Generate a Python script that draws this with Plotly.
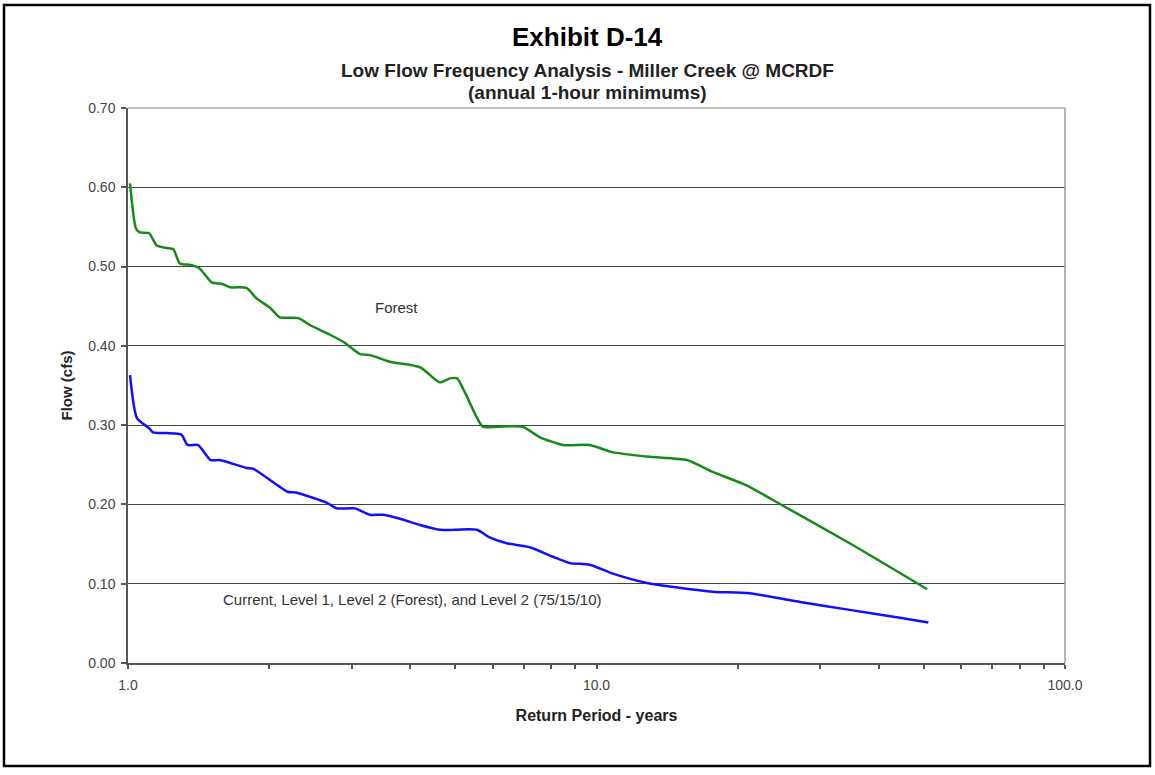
import plotly.graph_objects as go

# Forest series (return period in years, flow cfs)
forest_x = [1.01, 1.04, 1.06, 1.11, 1.15, 1.22, 1.25, 1.29, 1.36, 1.42, 1.51, 1.59, 1.65, 1.79,
            1.88, 2.01, 2.11, 2.31, 2.45, 2.70, 2.90, 3.12, 3.30, 3.62, 4.20, 4.63, 4.87, 5.04,
            5.25, 5.55, 5.72, 6.13, 6.96, 7.56, 8.48, 9.67, 10.8, 13.0, 15.6, 17.7, 20.9, 24.9,
            34.7, 50.8]
forest_y = [0.605, 0.548, 0.543, 0.542, 0.527, 0.523, 0.522, 0.504, 0.502, 0.498, 0.480, 0.478,
            0.474, 0.473, 0.460, 0.448, 0.436, 0.435, 0.426, 0.414, 0.404, 0.390, 0.388, 0.380,
            0.373, 0.354, 0.359, 0.359, 0.340, 0.310, 0.298, 0.298, 0.298, 0.285, 0.275, 0.275,
            0.266, 0.260, 0.256, 0.241, 0.224, 0.199, 0.151, 0.093]

# Current, Level 1, Level 2 (Forest), Level 2 (75/15/10)
current_x = [1.01, 1.045, 1.11, 1.13, 1.21, 1.30, 1.34, 1.41, 1.50, 1.57, 1.79, 1.85, 2.19, 2.28,
             2.66, 2.79, 3.05, 3.28, 3.50, 3.81, 4.20, 4.63, 5.55, 5.93, 6.43, 7.2, 8.07, 8.77,
             9.67, 10.8, 12.8, 15.0, 17.7, 21.2, 27.2, 34.7, 44.4, 51.1]
current_y = [0.363, 0.309, 0.296, 0.291, 0.290, 0.288, 0.275, 0.275, 0.256, 0.256, 0.246, 0.245,
             0.216, 0.215, 0.202, 0.195, 0.195, 0.187, 0.187, 0.182, 0.174, 0.168, 0.168, 0.158,
             0.151, 0.146, 0.134, 0.126, 0.124, 0.113, 0.101, 0.095, 0.090, 0.088, 0.077, 0.067,
             0.057, 0.051]

y_ticks = [0.0, 0.1, 0.2, 0.3, 0.4, 0.5, 0.6, 0.7]
y_tick_labels = ["0.00", "0.10", "0.20", "0.30", "0.40", "0.50", "0.60", "0.70"]
x_ticks = [1, 2, 3, 4, 5, 6, 7, 8, 9, 10, 20, 30, 40, 50, 60, 70, 80, 90, 100]
x_tick_labels = ["1.0", "", "", "", "", "", "", "", "", "10.0", "", "", "", "", "", "", "", "", "100.0"]

FONT = "Liberation Sans, Arial, sans-serif"

fig = go.Figure()
fig.add_trace(go.Scatter(x=forest_x, y=forest_y, mode="lines", name="Forest",
                         line=dict(color="#168a16", width=2.5, shape="spline", smoothing=0.6)))
fig.add_trace(go.Scatter(x=current_x, y=current_y, mode="lines", name="Current",
                         line=dict(color="#1010ff", width=2.5, shape="spline", smoothing=0.6)))

fig.update_layout(
    width=1155, height=775,
    margin=dict(l=128, r=90, t=108, b=112),
    paper_bgcolor="white", plot_bgcolor="white",
    showlegend=False,
    font=dict(family=FONT, size=14, color="#333"),
    xaxis=dict(type="log", range=[0, 2], tickvals=x_ticks, ticktext=x_tick_labels,
               showgrid=False, zeroline=False, showline=True, linecolor="#555", linewidth=1.5,
               ticks="outside", ticklen=4, tickcolor="#555", tickwidth=1.5,
               ticklabelstandoff=4,
               tickfont=dict(family=FONT, size=14, color="#444"),
               title=dict(text="<b>Return Period - years</b>", standoff=18,
                          font=dict(family=FONT, size=16, color="#222"))),
    yaxis=dict(range=[0, 0.7], tickvals=y_ticks, ticktext=y_tick_labels,
               showgrid=True, gridcolor="#444", gridwidth=1.2, zeroline=False,
               showline=True, linecolor="#555", linewidth=1.5,
               ticks="outside", ticklen=5, tickcolor="#555", tickwidth=1.5,
               ticklabelstandoff=3,
               tickfont=dict(family=FONT, size=14, color="#444"),
               title=dict(text="<b>Flow (cfs)</b>", standoff=12,
                          font=dict(family=FONT, size=15, color="#222"))),
    shapes=[
        dict(type="line", xref="paper", yref="paper", x0=0, x1=1, y0=1, y1=1,
             line=dict(color="#aaa", width=1.5)),
        dict(type="line", xref="paper", yref="paper", x0=1, x1=1, y0=0, y1=1,
             line=dict(color="#999", width=1.5)),
        dict(type="rect", xref="paper", yref="paper",
             x0=-124/937, x1=1+85/937, y0=-103/555, y1=1+103/555,
             line=dict(color="black", width=2.5)),
    ],
    annotations=[
        dict(text="<b>Exhibit D-14</b>", xref="paper", yref="paper", x=0.49, y=1 + 71/555,
             xanchor="center", yanchor="middle", showarrow=False,
             font=dict(family=FONT, size=26, color="black")),
        dict(text="<b>Low Flow Frequency Analysis - Miller Creek @ MCRDF</b>", xref="paper",
             yref="paper", x=0.49, y=1 + 38/555, xanchor="center", yanchor="middle",
             showarrow=False, font=dict(family=FONT, size=19, color="#222")),
        dict(text="<b>(annual 1-hour minimums)</b>", xref="paper", yref="paper", x=0.49,
             y=1 + 16/555, xanchor="center", yanchor="middle", showarrow=False,
             font=dict(family=FONT, size=19, color="#222")),
        dict(text="Forest", x=0.574, y=0.448, xref="x", yref="y", showarrow=False,
             font=dict(family=FONT, size=15, color="#333")),
        dict(text="Current, Level 1, Level 2 (Forest), and Level 2 (75/15/10)", x=0.608, y=0.0795,
             xref="x", yref="y", showarrow=False, font=dict(family=FONT, size=15, color="#333")),
    ],
)

fig.write_html("out.html", config={"displayModeBar": False},
               post_script="document.body.style.margin='0';document.body.style.overflow='hidden';")
